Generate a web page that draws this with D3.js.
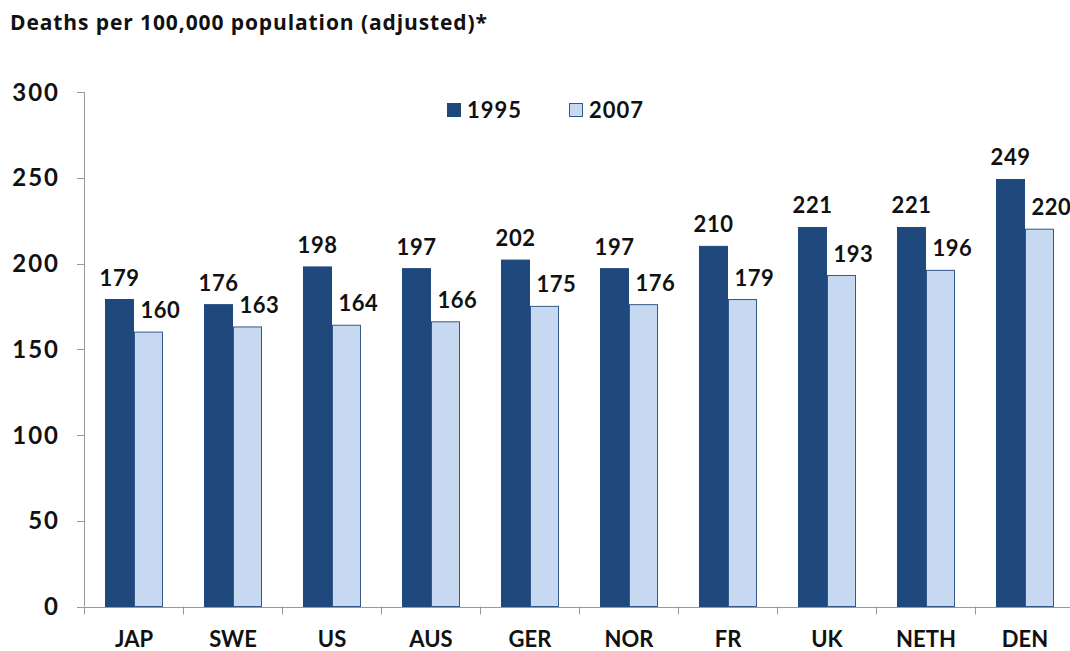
<!DOCTYPE html>
<html>
<head>
<meta charset="utf-8">
<script src="https://cdn.jsdelivr.net/npm/d3@7"></script>
<style>
  body { margin: 0; background: #fff; }
  text { font-family: Lato, "Open Sans", sans-serif; font-weight: bold; fill: #111; }
</style>
</head>
<body>
<div class="graph"></div>
<script>
// Chart data
var countries = ["JAP", "SWE", "US", "AUS", "GER", "NOR", "FR", "UK", "NETH", "DEN"];
var deaths1995 = [179, 176, 198, 197, 202, 197, 210, 221, 221, 249];
var deaths2007 = [160, 163, 164, 166, 175, 176, 179, 193, 196, 220];
var series = ["1995", "2007"];
var yTicks = [0, 50, 100, 150, 200, 250, 300];

var width = 1070, height = 651;
var margin = { top: 92, bottom: 44, left: 84.5 };
var step = 99;

var colors = { "1995": "#1f497d", "2007": "#c6d9f1" };
var strokes = { "1995": "#1f497d", "2007": "#34598a" };

var svg = d3.select('.graph').append('svg')
    .attr('width', width)
    .attr('height', height);

// the plot runs a bit past the right edge, like the original
var x = d3.scaleBand()
    .domain(countries)
    .range([margin.left, margin.left + step * countries.length])
    .paddingInner(0.414)
    .paddingOuter(0.207);

var y = d3.scaleLinear()
    .domain([0, 300])
    .range([height - margin.bottom - 0.5, margin.top]);

// title
svg.append('text')
    .attr('x', 10)
    .attr('y', 30)
    .attr('font-size', '21px')
    .style('font-family', '"Open Sans", sans-serif')
    .style('letter-spacing', '0.9px')
    .text('Deaths per 100,000 population (adjusted)*');

// y axis
var yAxis = svg.append('g')
    .attr('transform', 'translate(' + Math.floor(margin.left) + ',0)');
yAxis.append('line')
    .attr('x1', 0.5).attr('x2', 0.5)
    .attr('y1', y(300)).attr('y2', y(0))
    .style('stroke', '#999');
yAxis.selectAll('.ytick')
    .data(yTicks)
    .enter()
    .append('line')
    .attr('x1', -7).attr('x2', 0.5)
    .attr('y1', function(d) { return Math.round(y(d)) + 0.5; })
    .attr('y2', function(d) { return Math.round(y(d)) + 0.5; })
    .style('stroke', '#999');
yAxis.selectAll('.ylabel')
    .data(yTicks)
    .enter()
    .append('text')
    .attr('x', -24)
    .attr('y', function(d) { return y(d); })
    .attr('dy', '0.36em')
    .attr('text-anchor', 'end')
    .attr('font-size', '24px')
    .style('letter-spacing', '2px')
    .text(function(d) { return d; });

// x axis
var boundaries = d3.range(countries.length + 1).map(function(i) {
    return margin.left + i * step;
});
var xAxis = svg.append('g');
xAxis.append('line')
    .attr('x1', margin.left - 7).attr('x2', width)
    .attr('y1', Math.round(y(0)) + 0.5).attr('y2', Math.round(y(0)) + 0.5)
    .style('stroke', '#999');
xAxis.selectAll('.xtick')
    .data(boundaries)
    .enter()
    .append('line')
    .attr('x1', function(d) { return Math.floor(d) + 0.5; })
    .attr('x2', function(d) { return Math.floor(d) + 0.5; })
    .attr('y1', y(0)).attr('y2', y(0) + 8)
    .style('stroke', '#999');
xAxis.selectAll('.xlabel')
    .data(countries)
    .enter()
    .append('text')
    .attr('x', function(d) { return x(d) + x.bandwidth() / 2; })
    .attr('y', 647)
    .attr('text-anchor', 'middle')
    .attr('font-size', '22px')
    .text(function(d) { return d; });

// bars
var xs = d3.scaleBand().domain(series).range([0, x.bandwidth()]);

var rows = countries.map(function(c, i) {
    return { country: c, values: [
        { key: "1995", value: deaths1995[i] },
        { key: "2007", value: deaths2007[i] }
    ] };
});

var groups = svg.selectAll('.bargroup')
    .data(rows)
    .enter()
    .append('g')
    .attr('transform', function(d) { return 'translate(' + x(d.country) + ',0)'; });

groups.selectAll('rect')
    .data(function(d) { return d.values; })
    .enter()
    .append('rect')
    .attr('x', function(d) { return xs(d.key) + 0.5; })
    .attr('y', function(d) { return y(d.value); })
    .attr('width', xs.bandwidth() - 1)
    .attr('height', function(d) { return y(0) - y(d.value); })
    .style('fill', function(d) { return colors[d.key]; })
    .style('stroke', function(d) { return strokes[d.key]; })
    .style('stroke-width', 1);

// value labels (2007 labels sit a little to the right)
groups.selectAll('.val')
    .data(function(d) { return d.values; })
    .enter()
    .append('text')
    .attr('x', function(d) { return xs(d.key) + xs.bandwidth() / 2 + (d.key === "2007" ? 12 : 0); })
    .attr('y', function(d) { return y(d.value) - 14; })
    .attr('text-anchor', 'middle')
    .attr('font-size', '22px')
    .style('letter-spacing', '0.5px')
    .text(function(d) { return d.value; });

// legend
var legend = svg.append('g');
var legendPos = [447, 569];
series.forEach(function(s, i) {
    legend.append('rect')
        .attr('x', legendPos[i] + 0.5).attr('y', 103.5)
        .attr('width', 13).attr('height', 13)
        .style('fill', colors[s])
        .style('stroke', strokes[s]);
    legend.append('text')
        .attr('x', legendPos[i] + 20)
        .attr('y', 118)
        .attr('font-size', '22px')
        .style('letter-spacing', '1px')
        .text(s);
});
</script>
</body>
</html>
